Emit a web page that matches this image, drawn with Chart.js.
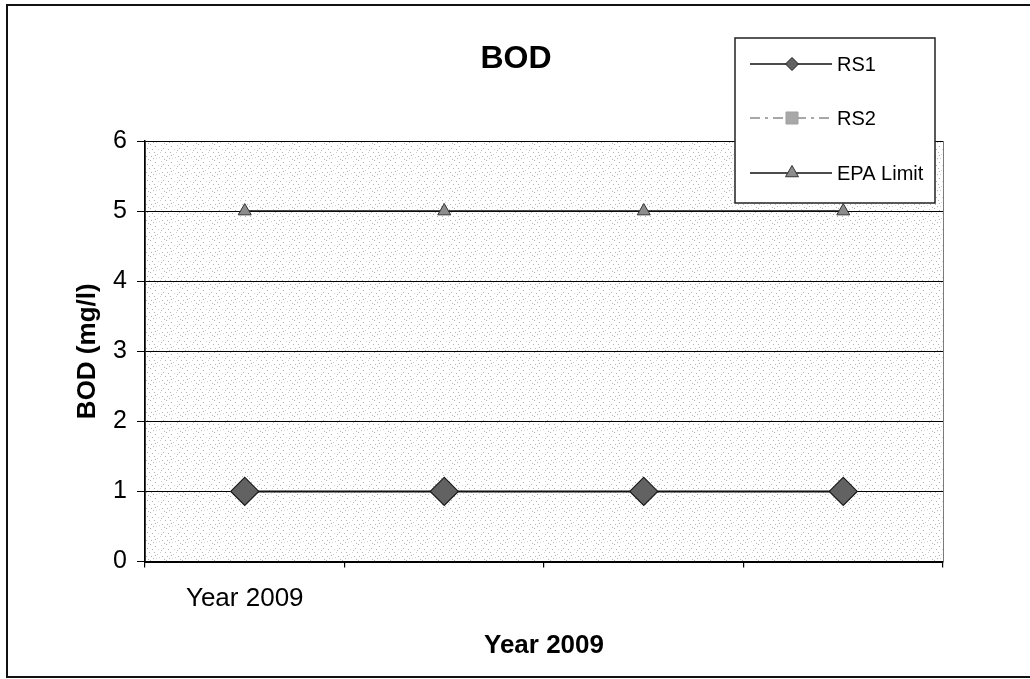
<!DOCTYPE html>
<html>
<head>
<meta charset="utf-8">
<script src="https://cdn.jsdelivr.net/npm/chart.js@4/dist/chart.umd.min.js"></script>
<style>
  html, body { margin: 0; padding: 0; background: #fff; }
  #wrap { width: 1030px; height: 679px; }
</style>
</head>
<body>
<div id="wrap"><canvas id="c" width="1030" height="679"></canvas></div>
<script>
// Sampling periods (only the first one carries a label)
const categories = ['Year 2009', '', '', ''];
// BOD readings, mg/l
const rs1Values = [1, 1, 1, 1];
const rs2Values = [null, null, null, null];
const epaLimitValues = [5, 5, 5, 5];
// Value axis
const yMin = 0;
const yMax = 6;
const yStep = 1;

const chartTitle = 'BOD';
const FONT = "'Liberation Sans', Arial, sans-serif";

// Fine stipple used as the plot-area background
function makeStipple() {
  const t = document.createElement('canvas');
  t.width = 16; t.height = 16;
  const g = t.getContext('2d');
  g.fillStyle = '#ffffff';
  g.fillRect(0, 0, 16, 16);
  const dots = [
    [1,1],[6,0],[11,2],[14,5],[3,4],[8,5],[0,8],[5,8],[10,8],[13,10],
    [2,12],[7,12],[12,14],[4,15],[9,14],[15,13],[11,11],[1,6]
  ];
  dots.forEach(([x, y], i) => {
    g.fillStyle = i % 3 === 0 ? '#d2d2d2' : '#b2b2b2';
    g.fillRect(x, y, 1, 1);
  });
  return t;
}

const plotBackground = {
  id: 'plotBackground',
  beforeDraw(chart) {
    const { ctx, chartArea: a } = chart;
    ctx.save();
    // outer frame
    ctx.strokeStyle = '#111';
    ctx.lineWidth = 2;
    ctx.strokeRect(7, 5, 1040, 672);
    // stippled plot area
    ctx.fillStyle = ctx.createPattern(makeStipple(), 'repeat');
    ctx.fillRect(a.left, a.top, a.right - a.left, a.bottom - a.top);
    ctx.strokeStyle = '#7a7a7a';
    ctx.lineWidth = 1;
    ctx.strokeRect(a.left + 0.5, a.top + 0.5, a.right - a.left, a.bottom - a.top);
    // chart title
    ctx.fillStyle = '#000';
    ctx.font = 'bold 32px ' + FONT;
    ctx.textAlign = 'center';
    ctx.textBaseline = 'middle';
    ctx.fillText(chartTitle, 516, 59);
    ctx.restore();
  }
};

// Boxed legend in the upper right, drawn from the dataset styles
const boxedLegend = {
  id: 'boxedLegend',
  afterDraw(chart) {
    const { ctx } = chart;
    const box = { x: 735, y: 38, w: 200, h: 165 };
    const rows = [64, 118, 173];
    const legendRadius = [6.5, 8.5, 7.5];
    ctx.save();
    ctx.fillStyle = '#ffffff';
    ctx.fillRect(box.x, box.y, box.w, box.h);
    ctx.strokeStyle = '#222';
    ctx.lineWidth = 1.5;
    ctx.strokeRect(box.x, box.y, box.w, box.h);
    chart.data.datasets.forEach((ds, i) => {
      const y = rows[i];
      ctx.save();
      ctx.strokeStyle = ds.borderColor;
      ctx.lineWidth = Math.min(ds.borderWidth, 1.5);
      ctx.setLineDash(ds.borderDash || []);
      ctx.beginPath();
      ctx.moveTo(750, y);
      ctx.lineTo(832, y);
      ctx.stroke();
      ctx.restore();
      ctx.save();
      ctx.fillStyle = ds.pointBackgroundColor;
      ctx.strokeStyle = ds.pointBorderColor;
      ctx.lineWidth = 1;
      Chart.helpers.drawPoint(ctx, {
        pointStyle: ds.pointStyle, radius: legendRadius[i], rotation: 0, borderWidth: 1
      }, 792, y);
      ctx.restore();
      ctx.fillStyle = '#000';
      ctx.font = '20px ' + FONT;
      ctx.textAlign = 'left';
      ctx.textBaseline = 'middle';
      ctx.fillText(ds.label, 837, y + 1);
    });
    ctx.restore();
  }
};

new Chart(document.getElementById('c'), {
  type: 'line',
  data: {
    labels: categories,
    datasets: [
      {
        label: 'RS1',
        data: rs1Values,
        borderColor: '#111',
        borderWidth: 2,
        pointStyle: 'rectRot',
        pointRadius: 14,
        pointHoverRadius: 14,
        pointBackgroundColor: '#626262',
        pointBorderColor: '#1a1a1a',
        pointBorderWidth: 1.2,
        order: 1
      },
      {
        label: 'RS2',
        data: rs2Values,
        borderColor: '#8a8a8a',
        borderWidth: 1.5,
        borderDash: [10, 5, 3, 5],
        pointStyle: 'rect',
        pointRadius: 8,
        pointBackgroundColor: '#a8a8a8',
        pointBorderColor: '#a0a0a0',
        order: 2
      },
      {
        label: 'EPA Limit',
        data: epaLimitValues,
        borderColor: '#111',
        borderWidth: 1.5,
        pointStyle: 'triangle',
        pointRadius: 7.5,
        pointHoverRadius: 7.5,
        pointBackgroundColor: '#8c8c8c',
        pointBorderColor: '#333',
        pointBorderWidth: 1,
        order: 3
      }
    ]
  },
  options: {
    responsive: false,
    devicePixelRatio: 1,
    animation: false,
    layout: { padding: { left: 0, right: 87, top: 141, bottom: 0 } },
    plugins: {
      legend: { display: false },
      tooltip: { enabled: false },
      title: { display: false }
    },
    scales: {
      x: {
        type: 'category',
        offset: true,
        afterFit(scale) { scale.height = 117.5; },
        grid: {
          display: true,
          offset: true,
          drawOnChartArea: false,
          drawTicks: true,
          tickLength: 6,
          color: '#000',
          lineWidth: 1.2
        },
        border: { display: true, color: '#000', width: 2 },
        ticks: {
          color: '#000',
          font: { family: FONT, size: 26 },
          padding: 16,
          maxRotation: 0,
          autoSkip: false
        },
        title: {
          display: true,
          text: 'Year 2009',
          color: '#000',
          font: { family: FONT, size: 26, weight: 'bold', lineHeight: 1.2 },
          padding: { top: 0, bottom: 18 }
        }
      },
      y: {
        min: yMin,
        max: yMax,
        afterFit(scale) { scale.width = 145; },
        grid: {
          color: '#000',
          lineWidth: 1,
          drawTicks: true,
          tickLength: 8
        },
        border: { display: true, color: '#000', width: 1.5 },
        ticks: {
          stepSize: yStep,
          color: '#000',
          font: { family: FONT, size: 25 },
          padding: 10
        },
        title: {
          display: true,
          text: 'BOD (mg/l)',
          color: '#000',
          font: { family: FONT, size: 26, weight: 'bold', lineHeight: 1.2 },
          padding: { top: 72, bottom: 0 }
        }
      }
    }
  },
  plugins: [plotBackground, boxedLegend]
});
</script>
</body>
</html>
